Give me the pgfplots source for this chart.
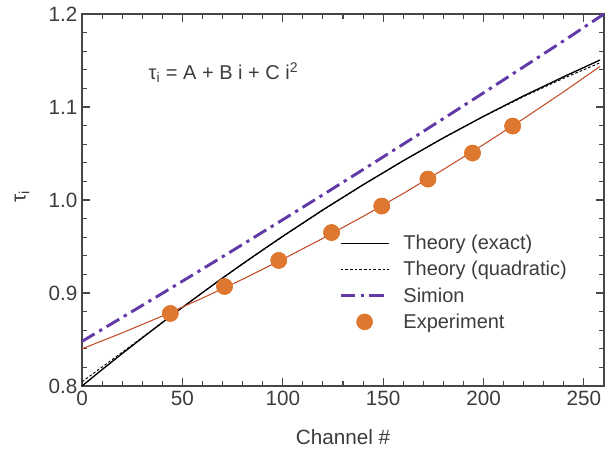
\documentclass[border=0pt]{standalone}
\usepackage{fontspec}
\setmainfont{Liberation Sans}
\usepackage{pgfplots}
\pgfplotsset{compat=1.18}
\definecolor{axgray}{RGB}{70,70,70}
\definecolor{txtgray}{RGB}{60,60,60}
\definecolor{simion}{RGB}{98,58,168}
\definecolor{expor}{RGB}{222,120,48}
\definecolor{fitred}{RGB}{196,78,40}
\begin{document}
\begin{tikzpicture}
\path[use as bounding box] (-61.5pt,-49.5pt) rectangle (399.75pt,289.5pt);
\begin{axis}[
  at={(0,0)}, anchor=south west,
  scale only axis, width=391.5pt, height=279pt,
  xmin=0, xmax=260, ymin=0.8, ymax=1.2,
  xtick={0,50,100,150,200,250},
  ytick={0.8,0.9,1.0,1.1,1.2},
  minor x tick num=4, minor y tick num=4,
  tick align=inside,
  major tick length=6pt, minor tick length=3.5pt,
  axis line style={axgray, line width=0.9pt},
  every tick/.style={axgray, line width=0.8pt},
  yticklabel style={/pgf/number format/.cd, fixed, fixed zerofill, precision=1},
  /pgf/number format/assume math mode=true,
  ticklabel style={font=\fontsize{15.5}{18}\selectfont, text=txtgray},
  xlabel={Channel \#},
  label style={font=\fontsize{15.5}{18}\selectfont, text=txtgray},
  xlabel style={at={(axis description cs:0.5,-0.137)}, anchor=center},
  legend style={draw=none, fill=none, at={(axis description cs:0.487,0.42)}, anchor=north west,
    font=\fontsize{15}{17}\selectfont, text=txtgray, row sep=3.2pt, inner sep=2pt},
  legend cell align=left,
  legend image code/.code={\draw[mark repeat=2,mark phase=2,#1] plot coordinates {(0pt,0pt) (18pt,0pt) (36pt,0pt)};\path (44pt,0pt);},
  clip=true,
]
\addplot[black, line width=1pt] coordinates {
(0,0.8) (10,0.8176) (20,0.8348) (30,0.8517) (40,0.8682) (50,0.8845) (60,0.9004) (70,0.9161)
(80,0.9314) (90,0.9463) (100,0.961) (120,0.9894) (140,1.0164) (160,1.0422) (180,1.0668)
(200,1.090) (220,1.112) (240,1.1326) (258,1.1505)};
\addlegendentry{Theory (exact)}
\addplot[black, line width=0.7pt, dash pattern=on 2pt off 1.5pt] coordinates {
(0,0.8045) (10,0.8204) (20,0.8362) (30,0.8522) (40,0.8683) (50,0.8845) (60,0.9003) (70,0.9159)
(80,0.9311) (90,0.9460) (100,0.9607) (120,0.9891) (140,1.0162) (160,1.0421) (180,1.0667)
(200,1.0898) (220,1.1112) (240,1.1310) (258,1.1475)};
\addlegendentry{Theory (quadratic)}
\addplot[simion, line width=2.2pt, dash pattern=on 11pt off 4pt on 2.5pt off 4pt] coordinates {
(0,0.848) (20,0.8737) (40,0.8996) (60,0.9258) (80,0.9522) (100,0.9788) (120,1.0056)
(140,1.0327) (160,1.06) (180,1.0875) (200,1.1152) (220,1.1432) (240,1.1713) (260,1.2)};
\addlegendentry{Simion}
\addplot[only marks, mark=*, mark size=6pt, mark options={fill=expor, draw=expor}] coordinates {
(44,0.878) (71,0.907) (98,0.935) (124.3,0.965) (149.3,0.9935) (172.3,1.0225) (194.5,1.0505) (214.5,1.0795)};
\addlegendentry{Experiment}
\addplot[fitred, line width=0.8pt, forget plot] coordinates {
(0,0.84) (20,0.8571) (40,0.8752) (60,0.8945) (80,0.9148) (100,0.9363) (120,0.9588)
(140,0.9823) (160,1.0070) (180,1.0328) (200,1.0596) (220,1.0875) (240,1.1165) (258,1.1436)};
\addplot[only marks, mark=*, mark size=6pt, mark options={fill=expor, draw=expor}, forget plot] coordinates {
(44,0.878) (71,0.907) (98,0.935) (124.3,0.965) (149.3,0.9935) (172.3,1.0225) (194.5,1.0505) (214.5,1.0795)};
\node[font=\fontsize{15}{17}\selectfont, text=txtgray] at (axis cs:70.5,1.137) {τ\textsubscript{i} = A + B i + C i\textsuperscript{2}};
\end{axis}
\node[font=\fontsize{15.5}{18}\selectfont, text=txtgray, rotate=90, anchor=center] at (-45pt,142pt) {τ\textsubscript{i}};
\end{tikzpicture}
\end{document}
